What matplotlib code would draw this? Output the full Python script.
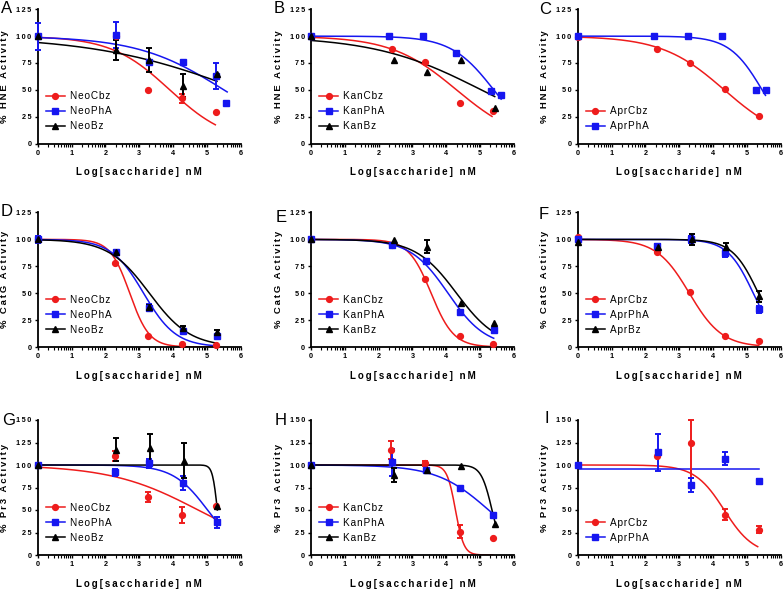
import numpy as np
import matplotlib
matplotlib.use("Agg")
import matplotlib.pyplot as plt
from matplotlib.lines import Line2D

plt.rcParams['font.family'] = ['Liberation Sans', 'DejaVu Sans']

RED = '#ee1c1c'
BLUE = '#1616f0'
BLACK = '#000000'

# ---- data: x = log[saccharide] nM, y = % activity, err = SEM
# each curve: (top, bottom, logIC50, hill, x_end) of the fitted dose-response curve

# A  HNE / neomycin
a_cbz_x = [0, 2.3, 3.27, 4.27, 5.27]
a_cbz_y = [100, 100, 50, 42, 29]
a_cbz_err = [0, 0, 0, 4, 0]
a_cbz_fit = (100, 0, 3.9, 0.5, 5.25)
a_pha_x = [0, 2.3, 3.3, 4.3, 5.28, 5.57]
a_pha_y = [100, 101, 75.5, 75.5, 63, 38]
a_pha_err = [12.5, 12.5, 0, 0, 12, 0]
a_pha_fit = (100, 0, 5.5, 0.34, 5.6)
a_bz_x = [0, 2.3, 3.3, 4.3, 5.3]
a_bz_y = [100, 87, 78, 54, 65]
a_bz_err = [0, 9, 11, 11, 0]
a_bz_fit = (100, 0, 6.0, 0.2, 5.3)

# B  HNE / kanamycin
b_cbz_x = [0, 2.39, 3.38, 4.39, 5.37]
b_cbz_y = [100, 88, 76, 37.5, 30]
b_cbz_err = [0, 0, 0, 0, 0]
b_cbz_fit = (100, 0, 4.3, 0.45, 5.35)
b_pha_x = [0, 2.3, 3.3, 4.3, 5.33, 5.62]
b_pha_y = [100, 100, 100, 84, 48.5, 45.5]
b_pha_err = [0, 0, 0, 0, 0, 0]
b_pha_fit = (100, 0, 5.4, 0.69, 5.62)
b_bz_x = [0, 2.44, 3.42, 4.44, 5.43]
b_bz_y = [100, 78, 66.5, 78, 33.5]
b_bz_err = [0, 0, 0, 0, 0]
b_bz_fit = (100, 0, 5.03, 0.274, 5.43)

# C  HNE / apramycin
c_cbz_x = [0, 2.34, 3.33, 4.34, 5.35]
c_cbz_y = [99.5, 88, 75, 50.5, 25.5]
c_cbz_err = [0, 0, 0, 0, 0]
c_cbz_fit = (100, 0, 4.33, 0.47, 5.35)
c_pha_x = [0, 2.26, 3.27, 4.27, 5.26, 5.57]
c_pha_y = [100, 100, 100, 100, 50, 50]
c_pha_err = [0, 0, 0, 0, 0, 0]
c_pha_fit = (100, 0, 5.45, 0.9, 5.55)

# D  CatG / neomycin
d_cbz_x = [0, 2.27, 3.27, 4.27, 5.27]
d_cbz_y = [100, 78, 10, 2.5, 1.5]
d_cbz_err = [0, 0, 0, 0, 0]
d_cbz_fit = (100, 0, 2.72, 1.5, 5.27)
d_pha_x = [0, 2.3, 3.3, 4.3, 5.3]
d_pha_y = [100, 88.5, 36.5, 15, 10.5]
d_pha_err = [3.5, 2, 3, 2, 2]
d_pha_fit = (100, 0, 3.13, 0.91, 5.3)
d_bz_x = [0, 2.3, 3.3, 4.3, 5.3]
d_bz_y = [100, 88, 37, 17.5, 14]
d_bz_err = [0, 2, 2, 2, 2]
d_bz_fit = (100, 0, 3.3, 0.72, 5.3)

# E  CatG / kanamycin
e_cbz_x = [0, 2.39, 3.37, 4.39, 5.39]
e_cbz_y = [100, 95, 63.5, 10.5, 2.5]
e_cbz_err = [0, 0, 0, 0, 0]
e_cbz_fit = (100, 0, 3.55, 1.3, 5.39)
e_pha_x = [0, 2.39, 3.4, 4.4, 5.4]
e_pha_y = [100, 94.5, 80, 32.5, 15.5]
e_pha_err = [0, 0, 2, 2, 2]
e_pha_fit = (100, 0, 4.05, 0.78, 5.4)
e_bz_x = [0, 2.44, 3.42, 4.44, 5.42]
e_bz_y = [100, 99, 93, 41, 22.5]
e_bz_err = [0, 0, 6, 0, 0]
e_bz_fit = (100, 0, 4.3, 0.72, 5.42)

# F  CatG / apramycin
f_cbz_x = [0, 2.34, 3.33, 4.34, 5.35]
f_cbz_y = [102.5, 88.5, 51, 10.5, 6]
f_cbz_err = [0, 0, 0, 0, 0]
f_cbz_fit = (100, 0, 3.3, 0.9, 5.35)
f_pha_x = [0, 2.34, 3.35, 4.35, 5.35]
f_pha_y = [100, 94, 100, 87, 35]
f_pha_err = [0, 2, 3, 3, 3]
f_pha_fit = (100, 0, 5.19, 1.135, 5.35)
f_bz_x = [0, 2.36, 3.37, 4.37, 5.37]
f_bz_y = [97.5, 93, 100, 93, 47]
f_bz_err = [0, 3, 5, 4, 5]
f_bz_fit = (100, 0, 5.34, 1.13, 5.37)

# G  Pr3 / neomycin
g_cbz_x = [0, 2.29, 3.27, 4.27, 5.28]
g_cbz_y = [100, 110, 64, 44.5, 54]
g_cbz_err = [0, 6, 5.5, 8.5, 0]
g_cbz_fit = (100, 0, 4.74, 0.336, 5.28)
g_pha_x = [0, 2.29, 3.29, 4.29, 5.29]
g_pha_y = [100, 92, 102, 80, 36.5]
g_pha_err = [0, 4, 5, 8, 6]
g_pha_fit = (100, 0, 5.02, 0.85, 5.29)
g_bz_x = [0, 2.31, 3.31, 4.31, 5.31]
g_bz_y = [100, 117, 119, 105, 55]
g_bz_err = [0, 13, 15, 19, 0]
g_bz_fit = (100, 0, 5.31, 6.0, 5.31)

# H  Pr3 / kanamycin
h_cbz_x = [0, 2.37, 3.38, 4.4, 5.37]
h_cbz_y = [100, 117, 102, 26, 19]
h_cbz_err = [0, 10, 3, 7.5, 0]
h_cbz_fit = (100, 0, 4.27, 3.5, 5.37)
h_pha_x = [0, 2.39, 3.39, 4.39, 5.39]
h_pha_y = [100, 103, 94, 75, 45]
h_pha_err = [0, 15, 2.5, 0, 0]
h_pha_fit = (100, 0, 5.25, 0.564, 5.39)
h_bz_x = [0, 2.44, 3.42, 4.44, 5.44]
h_bz_y = [100, 89, 95, 99, 35]
h_bz_err = [0, 8, 0, 0, 0]
h_bz_fit = (100, 0, 5.35, 2.72, 5.44)

# I  Pr3 / apramycin
i_cbz_x = [0, 2.34, 3.35, 4.34, 5.35]
i_cbz_y = [100, 110, 124, 45, 28]
i_cbz_err = [0, 0, 38, 6, 4]
i_cbz_fit = (100, 0, 4.33, 1.0, 5.32)
i_pha_x = [0, 2.36, 3.36, 4.36, 5.36]
i_pha_y = [100, 114, 78, 107, 82]
i_pha_err = [0, 21, 7.5, 7.5, 3]
i_pha_fit = (96, 96, 4.0, 1.0, 5.36)

ylabels = ['% HNE Activity', '% CatG Activity', '% Pr3 Activity']
xlabel = 'Log[saccharide] nM'
letters = ['A', 'B', 'C', 'D', 'E', 'F', 'G', 'H', 'I']
prefixes = ['Neo', 'Kan', 'Apr']


def spaced(s, sep='\u2009'):
    return sep.join(s)


def dose_response(x, top, bottom, logic50, hill):
    return bottom + (top - bottom) / (1 + 10 ** ((x - logic50) * hill))


series_style = {
    'Cbz': (RED, 'o', 4.2),
    'PhA': (BLUE, 's', 4.2),
    'Bz': (BLACK, '^', 4.4),
}

panels = [
    [('Cbz', a_cbz_x, a_cbz_y, a_cbz_err, a_cbz_fit), ('PhA', a_pha_x, a_pha_y, a_pha_err, a_pha_fit),
     ('Bz', a_bz_x, a_bz_y, a_bz_err, a_bz_fit)],
    [('Cbz', b_cbz_x, b_cbz_y, b_cbz_err, b_cbz_fit), ('PhA', b_pha_x, b_pha_y, b_pha_err, b_pha_fit),
     ('Bz', b_bz_x, b_bz_y, b_bz_err, b_bz_fit)],
    [('Cbz', c_cbz_x, c_cbz_y, c_cbz_err, c_cbz_fit), ('PhA', c_pha_x, c_pha_y, c_pha_err, c_pha_fit)],
    [('Cbz', d_cbz_x, d_cbz_y, d_cbz_err, d_cbz_fit), ('PhA', d_pha_x, d_pha_y, d_pha_err, d_pha_fit),
     ('Bz', d_bz_x, d_bz_y, d_bz_err, d_bz_fit)],
    [('Cbz', e_cbz_x, e_cbz_y, e_cbz_err, e_cbz_fit), ('PhA', e_pha_x, e_pha_y, e_pha_err, e_pha_fit),
     ('Bz', e_bz_x, e_bz_y, e_bz_err, e_bz_fit)],
    [('Cbz', f_cbz_x, f_cbz_y, f_cbz_err, f_cbz_fit), ('PhA', f_pha_x, f_pha_y, f_pha_err, f_pha_fit),
     ('Bz', f_bz_x, f_bz_y, f_bz_err, f_bz_fit)],
    [('Cbz', g_cbz_x, g_cbz_y, g_cbz_err, g_cbz_fit), ('PhA', g_pha_x, g_pha_y, g_pha_err, g_pha_fit),
     ('Bz', g_bz_x, g_bz_y, g_bz_err, g_bz_fit)],
    [('Cbz', h_cbz_x, h_cbz_y, h_cbz_err, h_cbz_fit), ('PhA', h_pha_x, h_pha_y, h_pha_err, h_pha_fit),
     ('Bz', h_bz_x, h_bz_y, h_bz_err, h_bz_fit)],
    [('Cbz', i_cbz_x, i_cbz_y, i_cbz_err, i_cbz_fit), ('PhA', i_pha_x, i_pha_y, i_pha_err, i_pha_fit)],
]

# panel geometry in pixels: axes left edge, y of the x axis, y of the top tick
W, H = 783, 590
col_left = [37.7, 311, 577.7]
col_width = 203
row_y = [(143.5, 9.3), (347, 212.5), (555, 420)]
row_ymax = [125, 125, 150]
letter_pos = [(1, 1), (274, 1), (539, 2), (1, 204), (276, 210), (539, 207), (2, 413), (275, 413), (545, 411)]

fig = plt.figure(figsize=(W / 100, H / 100), dpi=100)

minor = [d + np.log10(k) for d in range(6) for k in range(2, 10)]

for idx, series in enumerate(panels):
    r, c = divmod(idx, 3)
    y0, ytop = row_y[r]
    ax = fig.add_axes([col_left[c] / W, 1 - y0 / H, col_width / W, (y0 - ytop) / H])
    ymax = row_ymax[r]

    handles = []
    for name, xs, ys, errs, fit in series:
        color, marker, ms = series_style[name]
        top, bottom, ic, hill, xend = fit
        xx = np.linspace(0, xend, 300)
        ax.plot(xx, dose_response(xx, top, bottom, ic, hill), color=color, lw=1.1, zorder=2)
        xs = np.array(xs)
        ys = np.array(ys)
        errs = np.array(errs)
        lo = np.minimum(errs, ys)
        hi = np.minimum(errs, ymax - ys)
        has = errs > 0
        if has.any():
            ax.errorbar(xs[has], ys[has], yerr=[lo[has], hi[has]], fmt='none', ecolor=color,
                        elinewidth=1.4, capsize=2.2, capthick=1.4, clip_on=False, zorder=3)
        ax.plot(xs, ys, ls='none', marker=marker, ms=ms, color=color, mec=color,
                clip_on=False, zorder=4)
        handles.append(Line2D([], [], color=color, marker=marker, ms=ms, lw=1.1,
                              label=spaced(prefixes[c] + name, '\u200a')))

    ax.set_xlim(0, 6)
    ax.set_ylim(0, ymax)
    for s in ['top', 'right']:
        ax.spines[s].set_visible(False)
    for s in ['left', 'bottom']:
        ax.spines[s].set_linewidth(1.3)
    ax.set_xticks(range(7))
    ax.set_xticklabels([str(v) for v in range(7)], fontsize=5.2, fontweight='bold')
    ax.set_xticks(minor, minor=True)
    yt = list(range(0, ymax + 1, 25))
    ax.set_yticks(yt)
    ax.set_yticklabels([spaced(str(v)) for v in yt], fontsize=5.2, fontweight='bold')
    ax.tick_params(axis='both', which='major', length=2.5, width=1, pad=2)
    ax.tick_params(axis='x', which='minor', length=1.8, width=0.8)

    ax.set_ylabel(spaced(ylabels[r]), fontsize=6.8, fontweight='bold', labelpad=5)
    ax.set_xlabel(spaced(xlabel), fontsize=7.0, fontweight='bold', labelpad=7.5)

    ax.legend(handles=handles, loc='lower left', bbox_to_anchor=(0.02, 0.06), frameon=False,
              fontsize=7.2, handlelength=1.9, handletextpad=0.5, labelspacing=0.5,
              borderaxespad=0.2, borderpad=0.2)

    lx, ly = letter_pos[idx]
    fig.text(lx / W, 1 - ly / H, letters[idx], fontsize=12, va='top', ha='left')

fig.savefig('out.png', dpi=100)
